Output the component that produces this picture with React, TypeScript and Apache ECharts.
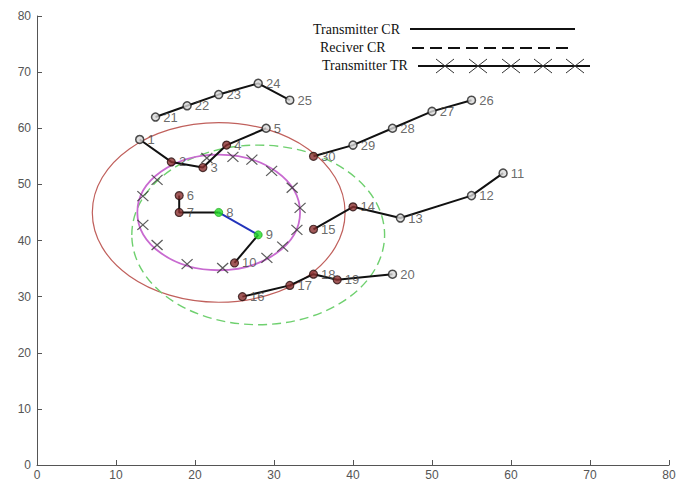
import React, { useEffect, useRef } from "react";
import * as echarts from "echarts";

// ---- data ----
const nodeLabels = ["1","2","3","4","5","6","7","8","9","10","11","12","13","14","15","16","17","18","19","20","21","22","23","24","25","26","27","28","29","30"];
const nodeX = [13, 17, 21, 24, 29, 18, 18, 23, 28, 25, 59, 55, 46, 40, 35, 26, 32, 35, 38, 45, 15, 19, 23, 28, 32, 55, 50, 45, 40, 35];
const nodeY = [58, 54, 53, 57, 60, 48, 45, 45, 41, 36, 52, 48, 44, 46, 42, 30, 32, 34, 33, 34, 62, 64, 66, 68, 65, 65, 63, 60, 57, 55];
// h = hollow, f = filled (inside a range), g = green (transmitter / receiver)
const nodeKind = ["h","f","f","f","h","f","f","g","g","f","h","h","h","f","f","f","f","f","f","h","h","h","h","h","h","h","h","h","h","f"];

const blackPaths = [
  [1, 2, 3, 4, 5],
  [6, 7, 8],
  [9, 10],
  [11, 12, 13, 14, 15],
  [16, 17, 18, 19, 20],
  [21, 22, 23, 24, 25],
  [26, 27, 28, 29, 30],
];
const bluePaths = [[8, 9]];

// range circles: centre x, centre y, radius
const circleCX = [23, 28, 23];
const circleCY = [45, 41, 45];
const circleR = [16, 16, 10.3];
const circleName = ["Transmitter CR", "Reciver CR", "Transmitter TR"];

// "x" markers on the transmitter TR ring
const trX = [21.5, 24.8, 27.2, 29.7, 32.3, 33.3, 32.9, 31.1, 29.1, 23.5, 19.0, 15.2, 13.4, 13.4, 15.2];
const trY = [54.7, 54.9, 54.4, 52.4, 49.4, 45.8, 41.9, 38.9, 36.9, 35.1, 35.8, 39.2, 42.8, 47.9, 50.8];

const xTicks = [0, 10, 20, 30, 40, 50, 60, 70, 80];
const yTicks = [0, 10, 20, 30, 40, 50, 60, 70, 80];

const circleStyles = [
  { stroke: "#c0605c", lineWidth: 1.2, lineDash: null as any },
  { stroke: "#6fd06f", lineWidth: 1.4, lineDash: [9, 5] },
  { stroke: "#c86ad0", lineWidth: 1.8, lineDash: null as any },
];

const XMARK = "path://M0,0L10,10M10,0L0,10";

export default function App() {
  const ref = useRef<HTMLDivElement>(null);
  useEffect(() => {
    if (!ref.current) return;
    const chart = echarts.init(ref.current, undefined, { renderer: "svg" });
    const pt = (id: number) => [nodeX[id - 1], nodeY[id - 1]];
    const series: any[] = [];

    series.push({
      type: "custom",
      name: "circles",
      coordinateSystem: "cartesian2d",
      silent: true,
      z: 1,
      clip: false,
      encode: { x: 0, y: 1 },
      data: circleCX.map((cx, i) => [cx, circleCY[i], circleR[i], circleName[i]]),
      renderItem: (params: any, api: any) => {
        const c = api.coord([api.value(0), api.value(1)]);
        const s = api.size([api.value(2), api.value(2)]);
        const st = circleStyles[params.dataIndex];
        return {
          type: "ellipse",
          shape: { cx: c[0], cy: c[1], rx: s[0], ry: s[1] },
          style: { fill: "none", stroke: st.stroke, lineWidth: st.lineWidth, lineDash: st.lineDash },
        };
      },
    });

    series.push({
      type: "scatter",
      name: "tr",
      z: 2,
      symbol: XMARK,
      symbolSize: [11, 10],
      itemStyle: { color: "none", borderColor: "#333", borderWidth: 1.2 },
      data: trX.map((x, i) => [x, trY[i]]),
    });

    blackPaths.forEach((p) => {
      series.push({
        type: "line",
        z: 3,
        symbol: "none",
        lineStyle: { color: "#111", width: 2 },
        data: p.map(pt),
      });
    });
    bluePaths.forEach((p) => {
      series.push({
        type: "line",
        z: 3,
        symbol: "none",
        lineStyle: { color: "#2233bb", width: 2 },
        data: p.map(pt),
      });
    });

    series.push({
      type: "scatter",
      name: "nodes",
      z: 4,
      symbol: "circle",
      symbolSize: 8,
      data: nodeX.map((x, i) => {
        const k = nodeKind[i];
        return {
          value: [x, nodeY[i]],
          name: nodeLabels[i],
          itemStyle:
            k === "g"
              ? { color: "#22dd22", borderColor: "#22aa22", borderWidth: 1 }
              : k === "f"
              ? { color: "#8a3030", borderColor: "#2a1010", borderWidth: 1.2 }
              : { color: "#d8d8d8", borderColor: "#222", borderWidth: 1.5 },
          label: { color: "#444" },
        };
      }),
      label: {
        show: true,
        position: "right",
        distance: 3,
        formatter: (p: any) => p.name,
        color: "#444",
        fontSize: 13,
        fontFamily: "Liberation Sans, Arial, sans-serif",
      },
    });

    const legendFont = "Liberation Serif, Times New Roman, serif";
    const legendMarks = [445, 478, 511, 543, 575].map((x) => ({
      type: "group",
      children: [
        { type: "line", shape: { x1: x - 9, y1: 59, x2: x + 9, y2: 73 }, style: { stroke: "#333", lineWidth: 1 } },
        { type: "line", shape: { x1: x - 9, y1: 73, x2: x + 9, y2: 59 }, style: { stroke: "#333", lineWidth: 1 } },
      ],
    }));

    chart.setOption({
      animation: false,
      backgroundColor: "#ffffff",
      grid: { left: 37, right: 22, top: 16, bottom: 18, containLabel: false },
      xAxis: {
        type: "value",
        min: xTicks[0],
        max: xTicks[xTicks.length - 1],
        interval: 10,
        axisLine: { show: true, lineStyle: { color: "#555", width: 1 } },
        axisTick: { show: true, inside: true, length: 5, lineStyle: { color: "#555" } },
        splitLine: { show: false },
        axisLabel: { color: "#555", fontSize: 12, margin: 4, fontFamily: "Liberation Sans, Arial, sans-serif" },
      },
      yAxis: {
        type: "value",
        min: yTicks[0],
        max: yTicks[yTicks.length - 1],
        interval: 10,
        axisLine: { show: true, lineStyle: { color: "#555", width: 1 } },
        axisTick: { show: true, inside: true, length: 5, lineStyle: { color: "#555" } },
        splitLine: { show: false },
        axisLabel: { color: "#555", fontSize: 12, margin: 6, fontFamily: "Liberation Sans, Arial, sans-serif" },
      },
      graphic: [
        { type: "text", left: 313, top: 22, style: { text: "Transmitter CR", font: `14px ${legendFont}`, fill: "#111" } },
        { type: "line", shape: { x1: 410, y1: 29, x2: 575, y2: 29 }, style: { stroke: "#111", lineWidth: 2 } },
        { type: "text", left: 320, top: 40, style: { text: "Reciver CR", font: `14px ${legendFont}`, fill: "#111" } },
        { type: "line", shape: { x1: 412, y1: 48, x2: 573, y2: 48 }, style: { stroke: "#111", lineWidth: 2, lineDash: [12, 6] } },
        { type: "text", left: 322, top: 58, style: { text: "Transmitter TR", font: `14px ${legendFont}`, fill: "#111" } },
        { type: "line", shape: { x1: 418, y1: 66, x2: 590, y2: 66 }, style: { stroke: "#111", lineWidth: 2 } },
        ...legendMarks,
      ],
      series,
    });
    return () => chart.dispose();
  }, []);
  return <div ref={ref} style={{ position: "absolute", left: 0, top: 0, width: 691, height: 483 }} />;
}
